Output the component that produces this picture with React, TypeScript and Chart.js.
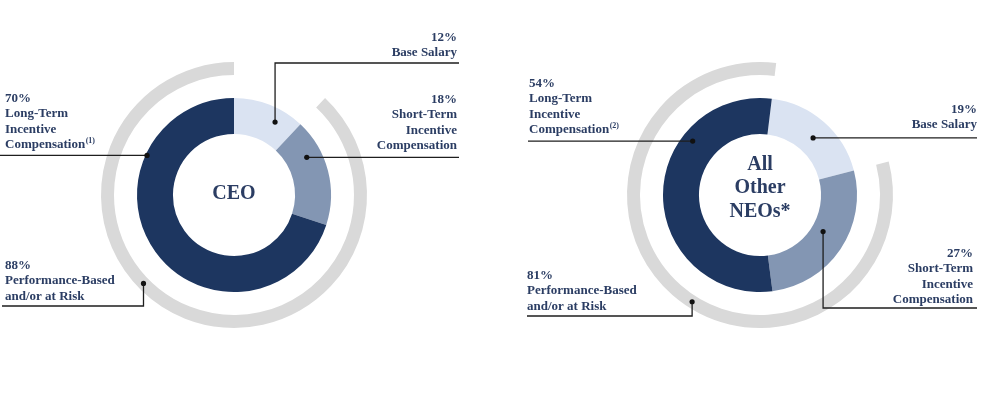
import React, { useEffect, useRef } from 'react';
import { Chart, registerables } from 'chart.js';

Chart.register(...registerables);

// ---- data ----
const CATEGORIES = ['Base Salary', 'Short-Term Incentive Compensation', 'Long-Term Incentive Compensation'];
const CEO_VALUES = [12, 18, 70];
const NEO_VALUES = [19, 27, 54];
const CEO_AT_RISK = 88;
const NEO_AT_RISK = 81;
const CEO_TITLE = ['CEO'];
const NEO_TITLE = ['All', 'Other', 'NEOs*'];
const BASE_LINES = ['Base Salary'];
const STI_LINES = ['Short-Term', 'Incentive', 'Compensation'];
const LTI_LINES = ['Long-Term', 'Incentive', 'Compensation'];
const RISK_LINES = ['Performance-Based', 'and/or at Risk'];
const CEO_NOTE = '(1)';
const NEO_NOTE = '(2)';

// ---- styles ----
const NAVY = '#1d3660';
const MID = '#8396b3';
const LIGHT = '#dae3f2';
const GRAY = '#d9d9d9';
const TEXT = '#2b3d63';
const LINE = '#1e1e1e';
const FONT = '"Liberation Serif", "Times New Roman", serif';

type Label = {
  ring: boolean; idx: number; t: number; rf: number;
  align: 'left' | 'right'; textX: number; textY: number;
  lineY: number | null; lineEnd: number; lines: string[]; sup?: string;
};

function makeLabelPlugin(labels: Label[], title: string[], titleY: number) {
  return {
    id: 'leaderLabels',
    afterDraw(chart: any) {
      const ctx = chart.ctx as CanvasRenderingContext2D;
      const ringEls = chart.getDatasetMeta(0).data;
      const donutEls = chart.getDatasetMeta(2).data;
      const cx = donutEls[0].x;
      const cy = donutEls[0].y;
      ctx.save();
      // center title
      ctx.fillStyle = TEXT;
      ctx.font = `bold 20px ${FONT}`;
      ctx.textAlign = 'center';
      ctx.textBaseline = 'alphabetic';
      title.forEach((s, i) => ctx.fillText(s, cx, cy + titleY + i * 23.3));

      for (const lab of labels) {
        const el = (lab.ring ? ringEls : donutEls)[lab.idx];
        const p = el.getProps(['startAngle', 'endAngle', 'innerRadius', 'outerRadius'], true);
        const a = p.startAngle + lab.t * (p.endAngle - p.startAngle);
        const r = p.innerRadius + lab.rf * (p.outerRadius - p.innerRadius);
        const dx = cx + r * Math.cos(a);
        const dy = cy + r * Math.sin(a);
        // leader line
        ctx.strokeStyle = LINE;
        ctx.lineWidth = 1.3;
        ctx.beginPath();
        ctx.moveTo(dx, dy);
        if (lab.lineY === null) {
          ctx.lineTo(cx + lab.lineEnd, dy);
        } else {
          ctx.lineTo(dx, cy + lab.lineY);
          ctx.lineTo(cx + lab.lineEnd, cy + lab.lineY);
        }
        ctx.stroke();
        ctx.fillStyle = '#111';
        ctx.beginPath();
        ctx.arc(dx, dy, 2.6, 0, Math.PI * 2);
        ctx.fill();
        // text
        ctx.fillStyle = TEXT;
        ctx.font = `bold 13px ${FONT}`;
        ctx.textAlign = lab.align;
        const x = cx + lab.textX;
        lab.lines.forEach((s, i) => ctx.fillText(s, x, cy + lab.textY + i * 15.3));
        if (lab.sup) {
          const last = lab.lines[lab.lines.length - 1];
          const w = ctx.measureText(last).width;
          const yb = cy + lab.textY + (lab.lines.length - 1) * 15.3 - 5;
          ctx.font = `bold 8px ${FONT}`;
          ctx.textAlign = 'left';
          ctx.fillText(lab.sup, x + w + 0.5, yb);
        }
      }
      ctx.restore();
    },
  };
}

function buildChart(canvas: HTMLCanvasElement, values: number[], atRisk: number, rotation: number,
  padding: any, labels: Label[], title: string[], titleY: number) {
  return new Chart(canvas, {
    type: 'doughnut',
    data: {
      labels: CATEGORIES,
      datasets: [
        { data: [100 - atRisk, atRisk], backgroundColor: ['rgba(0,0,0,0)', GRAY], borderWidth: 0, weight: 13 } as any,
        { data: [1], backgroundColor: ['rgba(0,0,0,0)'], borderWidth: 0, weight: 23 } as any,
        { data: values, backgroundColor: [LIGHT, MID, NAVY], borderWidth: 0, weight: 36 } as any,
      ],
    },
    options: {
      responsive: false,
      animation: false,
      rotation,
      radius: 133,
      cutout: '45.9%',
      layout: { padding },
      events: [],
      plugins: { legend: { display: false }, tooltip: { enabled: false } },
    } as any,
    plugins: [makeLabelPlugin(labels, title, titleY) as any],
  });
}

const ceoLabels: Label[] = [
  { ring: false, idx: 0, t: 0.68, rf: 0.63, align: 'right', textX: 223, textY: -154, lineY: -132, lineEnd: 225,
    lines: [`${CEO_VALUES[0]}%`, ...BASE_LINES] },
  { ring: false, idx: 1, t: 0.3, rf: 0.58, align: 'right', textX: 223, textY: -92, lineY: null, lineEnd: 225,
    lines: [`${CEO_VALUES[1]}%`, ...STI_LINES] },
  { ring: false, idx: 2, t: 0.74, rf: 0.96, align: 'left', textX: -229, textY: -93, lineY: null, lineEnd: -234,
    lines: [`${CEO_VALUES[2]}%`, ...LTI_LINES], sup: CEO_NOTE },
  { ring: true, idx: 1, t: 0.576, rf: 0.5, align: 'left', textX: -229, textY: 74, lineY: 111, lineEnd: -232,
    lines: [`${CEO_AT_RISK}%`, ...RISK_LINES] },
];

const neoLabels: Label[] = [
  { ring: false, idx: 0, t: 0.525, rf: 0.47, align: 'right', textX: 217, textY: -82, lineY: null, lineEnd: 217,
    lines: [`${NEO_VALUES[0]}%`, ...BASE_LINES] },
  { ring: false, idx: 1, t: 0.46, rf: 0.33, align: 'right', textX: 213, textY: 62, lineY: 113, lineEnd: 217,
    lines: [`${NEO_VALUES[1]}%`, ...STI_LINES] },
  { ring: false, idx: 2, t: 0.7, rf: 0.7, align: 'left', textX: -231, textY: -108, lineY: null, lineEnd: -232,
    lines: [`${NEO_VALUES[2]}%`, ...LTI_LINES], sup: NEO_NOTE },
  { ring: true, idx: 1, t: 0.47, rf: 0.5, align: 'left', textX: -233, textY: 84, lineY: 121, lineEnd: -233,
    lines: [`${NEO_AT_RISK}%`, ...RISK_LINES] },
];

export default function App() {
  const leftRef = useRef<HTMLCanvasElement>(null);
  const rightRef = useRef<HTMLCanvasElement>(null);

  useEffect(() => {
    const c1 = buildChart(leftRef.current!, CEO_VALUES, CEO_AT_RISK, 0,
      { left: 0, right: 28, top: 0, bottom: 4 }, ceoLabels, CEO_TITLE, 4);
    const c2 = buildChart(rightRef.current!, NEO_VALUES, NEO_AT_RISK, 7,
      { left: 32, right: 0, top: 0, bottom: 4 }, neoLabels, NEO_TITLE, -25);
    return () => { c1.destroy(); c2.destroy(); };
  }, []);

  return (
    <div style={{ position: 'absolute', left: 0, top: 0, width: 992, height: 394, background: '#fff' }}>
      <canvas ref={leftRef} width={496} height={394} style={{ position: 'absolute', left: 0, top: 0, width: 496, height: 394 }} />
      <canvas ref={rightRef} width={496} height={394} style={{ position: 'absolute', left: 496, top: 0, width: 496, height: 394 }} />
    </div>
  );
}
